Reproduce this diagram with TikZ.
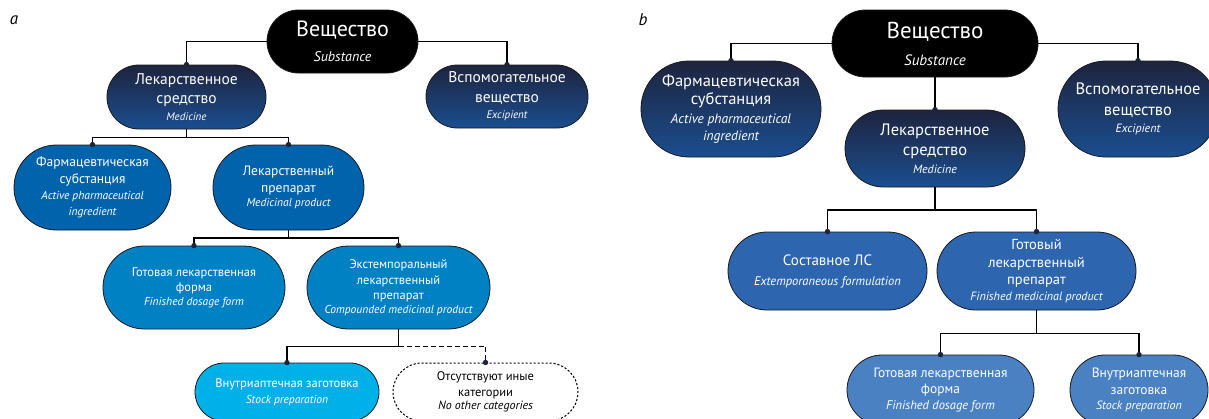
\documentclass[tikz,border=0pt]{standalone}
\usepackage{fontspec}
\setmainfont{PT Sans}
\usetikzlibrary{shapes.misc}
\definecolor{navyT}{RGB}{29,36,62}
\definecolor{navyB}{RGB}{27,78,143}
\definecolor{aTwo}{RGB}{0,99,172}
\definecolor{aThree}{RGB}{0,129,196}
\definecolor{aFour}{RGB}{0,177,233}
\definecolor{bThree}{RGB}{45,101,175}
\definecolor{bFour}{RGB}{73,129,194}
\definecolor{dotc}{RGB}{28,35,58}
\definecolor{edgec}{RGB}{25,25,30}
\newcommand{\en}[2]{{\fontsize{#1}{#1}\selectfont\itshape #2}}
\newcommand{\fs}[1]{\fontsize{#1}{#1}\selectfont}
\tikzset{
 pill/.style={shape=rounded rectangle, draw=edgec, line width=0.8pt, inner sep=0pt, align=center, text=white},
 navy/.style={pill, top color=navyT, bottom color=navyB},
 blk/.style={pill, fill=black},
 conn/.style={line width=1.4pt, draw=black},
 dotst/.style={fill=dotc},
 panlabel/.style={font=\fontsize{17}{17}\selectfont\itshape, inner sep=0pt}
}
\begin{document}
\begin{tikzpicture}[x=1pt,y=-1pt]
\useasboundingbox[fill=white] (0,0) rectangle (1209,418);

% ---------- panel a ----------
\node[panlabel] (la) at (14,20) {a};
\node[blk, font=\fs{22}, minimum width=151pt, minimum height=63pt] (subA) at (342.5,41.5)
  {Вещество\\[3pt]\en{14}{Substance}};
\node[navy, font=\fs{15.5}, minimum width=159pt, minimum height=64pt] (lekA) at (186.5,97)
  {Лекарственное\\[4pt]средство\\[1pt]\en{11}{Medicine}};
\node[navy, font=\fs{15.5}, minimum width=162pt, minimum height=63pt] (vspA) at (507,96.5)
  {Вспомогательное\\[4pt]вещество\\[1pt]\en{11}{Excipient}};
\node[pill, fill=aTwo, font=\fs{13.5}, minimum width=157pt, minimum height=85pt] (farmA) at (92.5,187.5)
  {Фармацевтическая\\[3pt]субстанция\\[3pt]\en{11.5}{Active pharmaceutical}\\[2pt]\en{11.5}{ingredient}};
\node[pill, fill=aTwo, font=\fs{13.5}, minimum width=151pt, minimum height=85pt] (prepA) at (288.5,187.5)
  {Лекарственный\\[3pt]препарат\\[1pt]\en{11.5}{Medicinal product}};
\node[pill, fill=aThree, font=\fs{12.5}, minimum width=182pt, minimum height=83pt] (gotA) at (194,287.5)
  {Готовая лекарственная\\[3pt]форма\\[1pt]\en{11.5}{Finished dosage form}};
\node[pill, fill=aThree, font=\fs{12.5}, minimum width=183pt, minimum height=83pt] (extA) at (398.5,287.5)
  {Экстемпоральный\\[3pt]лекарственный\\[3pt]препарат\\[1pt]\en{11.5}{Compounded medicinal product}};
\node[pill, fill=aFour, font=\fs{12.5}, minimum width=184pt, minimum height=58pt] (vnA) at (287,392)
  {Внутриаптечная заготовка\\[4pt]\en{11.5}{Stock preparation}};
\node[pill, fill=white, draw=black, line width=1pt, dash pattern=on 2.2pt off 1.8pt, text=black,
  font=\fs{12.5}, minimum width=185pt, minimum height=58pt] (noA) at (485.5,392)
  {Отсутствуют иные\\[3pt]категории\\[1pt]\en{12}{No other categories}};

\draw[conn] (subA.west) -| (lekA.north);
\draw[conn] (subA.east) -| (vspA.north);
\draw[conn] (lekA.south) -- ++(0,8) -| (farmA.north);
\draw[conn] (lekA.south) -- ++(0,8) -| (prepA.north);
\draw[conn] (prepA.south) -- ++(0,7.5) -| (gotA.north);
\draw[conn] (prepA.south) -- ++(0,7.5) -| (extA.north);
\draw[conn] (extA.south) -- ++(0,17) coordinate (extbar) -| (vnA.north);
\draw[conn, dash pattern=on 5pt off 3pt] (extbar) -| (noA.north);
\foreach \n in {lekA,vspA,farmA,prepA,gotA,extA,vnA,noA}
  \fill[dotst] (\n.north) circle (2.7pt);

% ---------- panel b ----------
\node[panlabel] (lb) at (643,20) {b};
\node[blk, font=\fs{23}, minimum width=206pt, minimum height=67pt] (subB) at (935,43.5)
  {Вещество\\[4pt]\en{15}{Substance}};
\node[navy, font=\fs{16.5}, minimum width=180pt, minimum height=96pt] (farmB) at (731,109)
  {Фармацевтическая\\[2pt]субстанция\\[2pt]\en{13.5}{Active pharmaceutical}\\[1pt]\en{13.5}{ingredient}};
\node[navy, font=\fs{16.5}, minimum width=180pt, minimum height=77pt] (lekB) at (935,148.5)
  {Лекарственное\\[4pt]средство\\[1pt]\en{12}{Medicine}};
\node[navy, font=\fs{16.5}, minimum width=160pt, minimum height=96pt] (vspB) at (1138,109)
  {Вспомогательное\\[4pt]вещество\\[1pt]\en{12}{Excipient}};
\node[pill, fill=bThree, font=\fs{15}, minimum width=199pt, minimum height=78pt] (sostB) at (827.5,271)
  {Составное ЛС\\[5pt]\en{12.5}{Extemporaneous formulation}};
\node[pill, fill=bThree, font=\fs{14.5}, minimum width=199pt, minimum height=78pt] (gotpB) at (1036.5,271)
  {Готовый\\[3pt]лекарственный\\[3pt]препарат\\[1pt]\en{12}{Finished medicinal product}};
\node[pill, fill=bFour, font=\fs{13.5}, minimum width=187pt, minimum height=70pt] (gotfB) at (940.5,390)
  {Готовая лекарственная\\[3pt]форма\\[2pt]\en{12.5}{Finished dosage form}};
\node[pill, fill=bFour, font=\fs{13.5}, minimum width=138pt, minimum height=70pt] (vnB) at (1139,390)
  {Внутриаптечная\\[3pt]заготовка\\[2pt]\en{12}{Stock preparation}};

\draw[conn] (subB.west) -| (farmB.north);
\draw[conn] (subB.east) -| (vspB.north);
\draw[conn] (subB.south) -- (lekB.north);
\draw[conn] (lekB.south) -- ++(0,22.5) -| (sostB.north);
\draw[conn] (lekB.south) -- ++(0,22.5) -| (gotpB.north);
\draw[conn] (gotpB.south) -- ++(0,23) -| (gotfB.north);
\draw[conn] (gotpB.south) -- ++(0,23) -| (vnB.north);
\foreach \n in {farmB,lekB,vspB,sostB,gotpB,gotfB,vnB}
  \fill[dotst] (\n.north) circle (2.7pt);
\end{tikzpicture}
\end{document}
